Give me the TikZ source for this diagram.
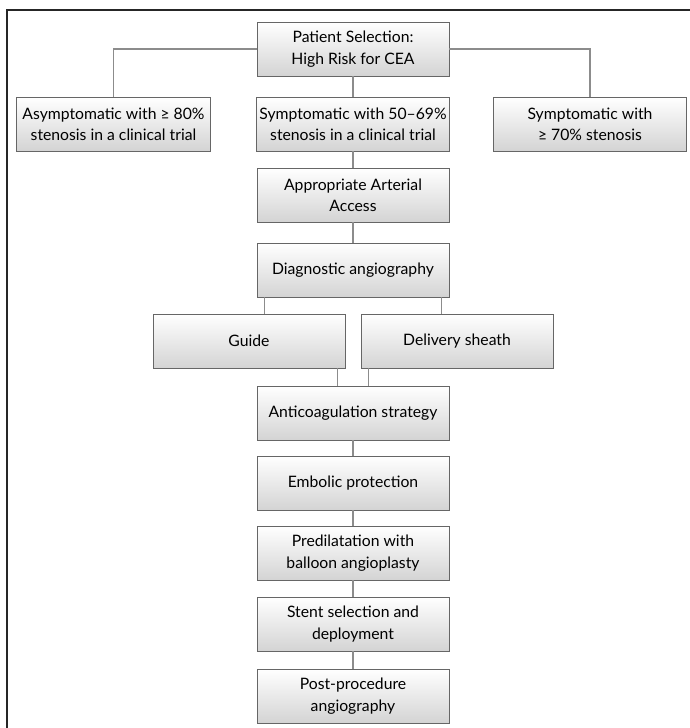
\documentclass[tikz,border=0pt]{standalone}
\usepackage{fontspec}
\setmainfont{Lato}
\usepackage{tikz}
\usetikzlibrary{positioning,calc}

\begin{document}
\begin{tikzpicture}[
    x=0.75pt, y=-0.75pt,
    every node/.style={font=\fontsize{11.8pt}{16pt}\selectfont},
    procbox/.style={draw=black!60, line width=0.6pt, top color=white, bottom color=black!17,
        minimum width=144pt, minimum height=40.5pt, inner sep=2pt, align=center},
    widebox/.style={procbox, minimum width=145pt},
    link/.style={draw=black!45, line width=0.8pt},
    frame/.style={draw=black!85, line width=1.5pt}
]
\useasboundingbox (0,0) rectangle (689,728);

% outer frame (runs off the page on the right and at the bottom)
\draw[frame] (7,760) -- (7,10) -- (720,10);

% selection and the three groups
\node[procbox] (sel) at (353,49) {Patient Selection:\\High Risk for CEA};
\node[widebox] (asym) at (113.5,124) {Asymptomatic with ≥ 80\%\\stenosis in a clinical trial};
\node[procbox] (sym) at (353,124) {Symptomatic with 50–69\%\\stenosis in a clinical trial};
\node[widebox] (symhi) at (590,124) {Symptomatic with\\≥ 70\% stenosis};

% procedure steps
\node[procbox] (access) at (353,195) {Appropriate Arterial\\Access};
\node[procbox] (diag) at (353,270) {Diagnostic angiography};
\node[procbox] (guide) at (249,341) {Guide};
\node[procbox] (sheath) at (457,341) {Delivery sheath};
\node[procbox] (anticoag) at (353,413) {Anticoagulation strategy};
\node[procbox] (embolic) at (353,483) {Embolic protection};
\node[procbox] (predil) at (353,553) {Predilatation with\\balloon angioplasty};
\node[procbox] (stent) at (353,624) {Stent selection and\\deployment};
\node[procbox] (post) at (353,696) {Post-procedure\\angiography};

% connectors
\draw[link] (sel.west) -| (asym.north);
\draw[link] (sel.east) -| (symhi.north);
\draw[link] (sel) -- (sym);
\draw[link] (sym) -- (access);
\draw[link] (access) -- (diag);
\draw[link] ($(diag.south west)+(8,0)$) coordinate (dl) -- (dl |- guide.north);
\draw[link] ($(diag.south east)+(-8,0)$) coordinate (dr) -- (dr |- sheath.north);
\draw[link] ($(guide.south east)+(-8,0)$) coordinate (gr) -- (gr |- anticoag.north);
\draw[link] ($(sheath.south west)+(8,0)$) coordinate (sl) -- (sl |- anticoag.north);
\draw[link] (anticoag) -- (embolic);
\draw[link] (embolic) -- (predil);
\draw[link] (predil) -- (stent);
\draw[link] (stent) -- (post);

\end{tikzpicture}
\end{document}
